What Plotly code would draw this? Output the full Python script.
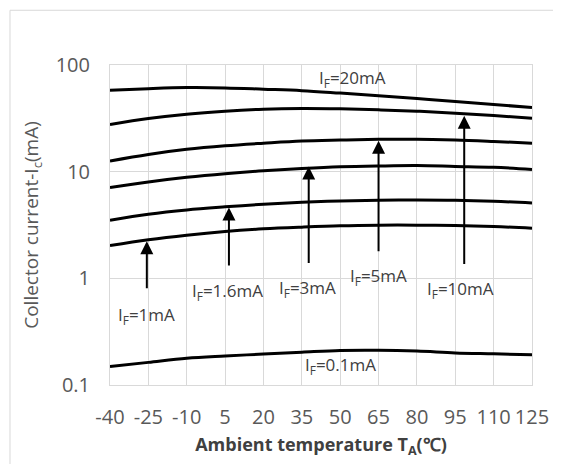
import numpy as np
import plotly.graph_objects as go

temps = [-40, -25, -10, 5, 20, 35, 50, 65, 80, 95, 110, 125]
temp_labels = ["-40", "-25", "-10", "5", "20", "35", "50", "65", "80", "95", "110", "125"]
ic_20mA = [58, 60, 61.4, 61, 59.3, 57.5, 54.5, 51.4, 48.5, 45.5, 42.6, 40]
ic_10mA = [27.7, 31.5, 34.6, 36.9, 38.5, 39.1, 38.8, 38, 36.9, 35.3, 33.6, 31.7]
ic_5mA = [12.6, 14.5, 16.2, 17.5, 18.5, 19.4, 19.8, 20.1, 20.1, 19.8, 19.2, 18.5]
ic_3mA = [7.09, 8.0, 8.85, 9.58, 10.2, 10.7, 11.1, 11.3, 11.4, 11.2, 11.0, 10.5]
ic_1p6mA = [3.51, 3.99, 4.38, 4.68, 4.95, 5.17, 5.32, 5.40, 5.43, 5.40, 5.28, 5.09]
ic_1mA = [2.03, 2.30, 2.54, 2.75, 2.91, 3.02, 3.11, 3.15, 3.15, 3.13, 3.06, 2.95]
ic_0p1mA = [0.149, 0.163, 0.178, 0.187, 0.195, 0.203, 0.211, 0.212, 0.208, 0.200, 0.196, 0.192]
series = [ic_20mA, ic_10mA, ic_5mA, ic_3mA, ic_1p6mA, ic_1mA, ic_0p1mA]

y_ticks = [0.1, 1, 10, 100]
y_ticktext = ["0.1", "1", "10", "100"]

label_text = ["I<sub>F</sub>=20mA", "I<sub>F</sub>=1mA", "I<sub>F</sub>=1.6mA", "I<sub>F</sub>=3mA",
              "I<sub>F</sub>=5mA", "I<sub>F</sub>=10mA", "I<sub>F</sub>=0.1mA"]
label_x = [55, -25.8, 6, 37.3, 65, 97.2, 50]
label_y = [74.5, 0.45, 0.745, 0.80, 1.04, 0.78, 0.154]

arrow_x = [-25.6, 6.5, 37.7, 65, 98.5]
arrow_tail = [0.78, 1.28, 1.35, 1.74, 1.32]
arrow_tip = [2.23, 4.61, 11.2, 19.5, 33.4]

fig = go.Figure()
for s in series:
    fig.add_trace(go.Scatter(x=temps, y=s, mode="lines", line=dict(color="black", width=3, shape="spline"),
                             showlegend=False, hoverinfo="skip"))

for x, t, h in zip(arrow_x, arrow_tail, arrow_tip):
    fig.add_annotation(x=x, y=np.log10(h), ax=x, ay=np.log10(t), xref="x", yref="y", axref="x", ayref="y",
                       showarrow=True, arrowhead=2, arrowsize=1.3, arrowwidth=2, arrowcolor="black", text="")

for t, x, y in zip(label_text, label_x, label_y):
    fig.add_annotation(x=x, y=np.log10(y), xref="x", yref="y", text=t, showarrow=False,
                       font=dict(family="Open Sans", size=17, color="#404040"))

fig.add_shape(type="rect", xref="paper", yref="paper", x0=-0.237, x1=1.1, y0=-0.3, y1=1.171,
              line=dict(color="#d9d9d9", width=1), layer="below")

fig.update_layout(
    width=553, height=456, margin=dict(l=102, r=25, t=57, b=78),
    paper_bgcolor="white", plot_bgcolor="white",
    font=dict(family="Open Sans", color="#595959"),
    xaxis=dict(range=[-40, 125], tickvals=temps, ticktext=temp_labels, showgrid=True, gridcolor="#d9d9d9",
               gridwidth=1, zeroline=False, showline=True, linecolor="#d9d9d9", mirror=True,
               tickfont=dict(size=20, color="#595959"), ticks="", ticklabelstandoff=14,
               title=dict(text="<b>Ambient temperature T<sub>A</sub>(℃)</b>", font=dict(size=18, color="#404040"),
                          standoff=9)),
    yaxis=dict(type="log", range=[-1, 2], tickvals=y_ticks, ticktext=y_ticktext, showgrid=True,
               gridcolor="#d9d9d9", gridwidth=1, zeroline=False, showline=True, linecolor="#d9d9d9", mirror=True,
               tickfont=dict(size=20, color="#595959"), ticks="", ticklabelstandoff=15,
               title=dict(text="Collector current-I<sub>c</sub>(mA)", font=dict(size=19, color="#595959"),
                          standoff=12)),
)

fig.write_html("out.html")
